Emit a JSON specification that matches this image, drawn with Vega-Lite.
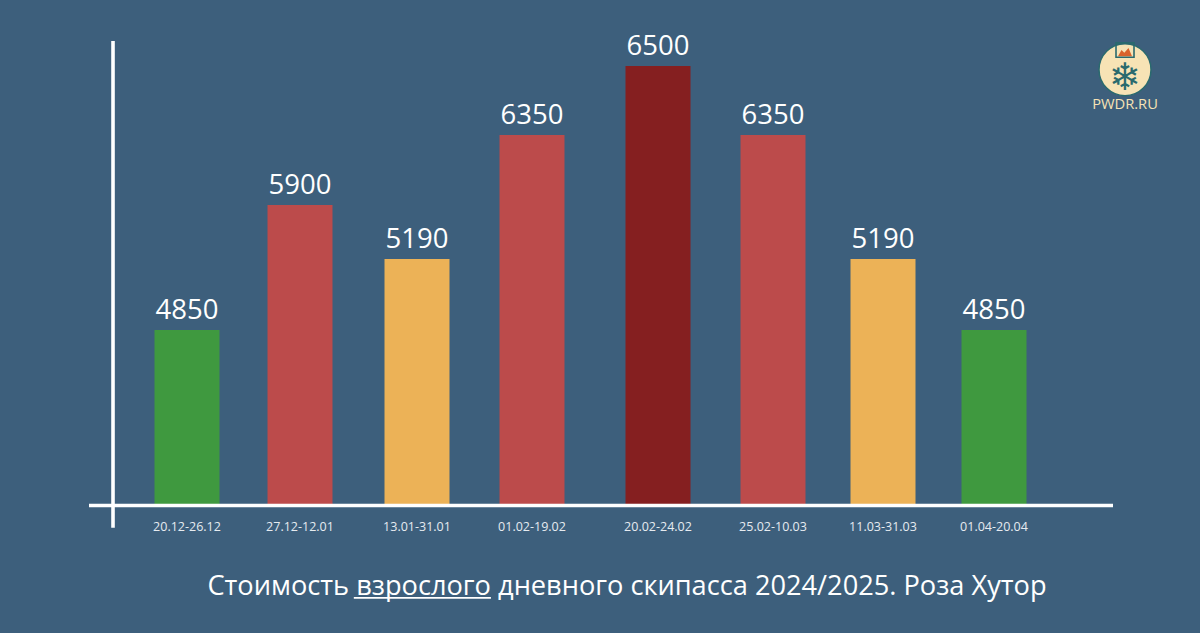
{
  "$schema": "https://vega.github.io/schema/vega-lite/v6.json",
  "description": "Стоимость взрослого дневного скипасса 2024/2025, Роза Хутор",
  "background": "#3d5f7c",
  "width": 1200,
  "height": 633,
  "padding": 0,
  "autosize": {"type": "fit", "contains": "padding"},
  "config": {"view": {"stroke": null}, "text": {"font": "Open Sans"}},
  "data": {"values": [
    {"n": 1, "period": "20.12-26.12", "price": 4850},
    {"n": 2, "period": "27.12-12.01", "price": 5900},
    {"n": 3, "period": "13.01-31.01", "price": 5190},
    {"n": 4, "period": "01.02-19.02", "price": 6350},
    {"n": 5, "period": "20.02-24.02", "price": 6500},
    {"n": 6, "period": "25.02-10.03", "price": 6350},
    {"n": 7, "period": "11.03-31.03", "price": 5190},
    {"n": 8, "period": "01.04-20.04", "price": 4850}
  ]},
  "layer": [
    {
      "mark": {"type": "bar", "width": 65, "orient": "vertical"},
      "encoding": {
        "x": {"field": "n", "type": "quantitative", "axis": null,
          "scale": {"padding": 0, "domain": [0, 1, 2, 3, 4, 5, 6, 7, 8, 9, 10], "range": [89, 187, 300, 417, 532, 658, 773, 883, 994, 1113, 1200]}},
        "y": {"field": "price", "type": "quantitative", "axis": null,
          "scale": {"domain": [-1000, 0, 4850, 5190, 5900, 6350, 6500, 7000], "range": [633, 505.5, 330, 259, 205, 135, 66, 0]}},
        "color": {"field": "price", "type": "nominal", "legend": null,
          "scale": {"domain": [4850, 5190, 5900, 6350, 6500], "range": ["#3f993f", "#ecb257", "#bc4b4b", "#bc4b4b", "#851f20"]}}
      }
    },
    {
      "mark": {"type": "text", "dy": -11.5, "baseline": "alphabetic", "fontSize": 27.5, "color": "#ffffff"},
      "encoding": {
        "x": {"field": "n", "type": "quantitative"},
        "y": {"field": "price", "type": "quantitative"},
        "text": {"field": "price", "type": "nominal"}
      }
    },
    {
      "mark": {"type": "text", "baseline": "alphabetic", "fontSize": 12.5, "color": "#e6ebf0"},
      "encoding": {
        "x": {"field": "n", "type": "quantitative"},
        "y": {"datum": -200},
        "text": {"field": "period", "type": "nominal"}
      }
    },
    {
      "data": {"values": [{}]},
      "mark": {"type": "rule", "color": "#ffffff", "strokeWidth": 3.6},
      "encoding": {"x": {"datum": 0}, "x2": {"datum": 9}, "y": {"datum": 0}}
    },
    {
      "data": {"values": [{}]},
      "mark": {"type": "rule", "color": "#ffffff", "strokeWidth": 3.6},
      "encoding": {"x": {"datum": 0.245}, "y": {"datum": -175}, "y2": {"datum": 6689}}
    },
    {
      "data": {"values": [{"label": "Стоимость взрослого дневного скипасса 2024/2025. Роза Хутор"}]},
      "mark": {"type": "text", "baseline": "alphabetic", "fontSize": 27.2, "color": "#ffffff"},
      "encoding": {"x": {"datum": 4.754}, "y": {"datum": -704}, "text": {"field": "label"}}
    },
    {
      "data": {"values": [{}]},
      "mark": {"type": "rule", "color": "#ffffff", "strokeWidth": 1.8},
      "encoding": {"x": {"datum": 2.46}, "x2": {"datum": 3.643}, "y": {"datum": -725}}
    },
    {
      "data": {"values": [{}]},
      "mark": {"type": "point", "filled": true, "size": 2704, "fill": "#f7e3b5", "stroke": "#2a6a6e", "strokeWidth": 1.5, "opacity": 1, "shape": "circle"},
      "encoding": {"x": {"datum": 9.138}, "y": {"datum": 6492}}
    },
    {
      "data": {"values": [{}]},
      "mark": {"type": "point", "filled": true, "size": 196, "fill": "#d9622b", "opacity": 1, "strokeWidth": 0, "shape": "M-1,0.9L-0.5,0L-0.1,0.4L0.5,-0.3L1,0.9Z"},
      "encoding": {"x": {"datum": 9.138}, "y": {"datum": 6621}}
    },
    {
      "data": {"values": [{}]},
      "mark": {"type": "point", "filled": false, "size": 324, "stroke": "#2a6a6e", "strokeWidth": 1.6, "opacity": 1, "shape": "M-1,-0.8H1V0.8H-1Z"},
      "encoding": {"x": {"datum": 9.138}, "y": {"datum": 6621}}
    },
    {
      "data": {"values": [{"icon": "❄"}]},
      "mark": {"type": "text", "font": "DejaVu Sans", "fontWeight": "bold", "fontSize": 38, "baseline": "middle", "color": "#2a6a6e"},
      "encoding": {"x": {"datum": 9.138}, "y": {"datum": 6472}, "text": {"field": "icon"}}
    },
    {
      "data": {"values": [{"label": "PWDR.RU"}]},
      "mark": {"type": "text", "baseline": "alphabetic", "fontSize": 14.7, "color": "#f7e3b5"},
      "encoding": {"x": {"datum": 9.138}, "y": {"datum": 6406}, "text": {"field": "label"}}
    }
  ]
}
